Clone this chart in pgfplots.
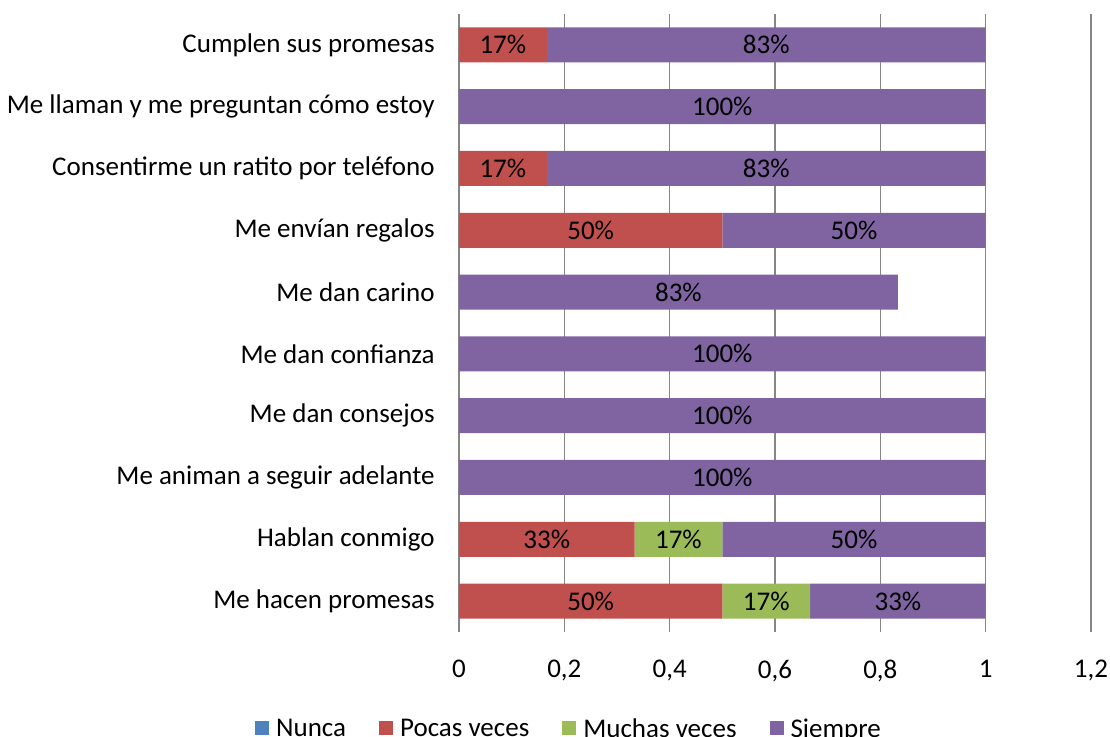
\documentclass[border=0pt]{standalone}
\usepackage{pgfplots}
\pgfplotsset{compat=1.18}
\usepackage{pgfplotstable}
\usepackage{fontspec}
\setmainfont{Carlito}
\definecolor{cN}{HTML}{4F81BD}
\definecolor{cP}{HTML}{C0504D}
\definecolor{cM}{HTML}{9BBB59}
\definecolor{cS}{HTML}{8064A2}
\definecolor{gridc}{HTML}{868686}
\pgfplotstableread{
y  n  np  p      pp  m      mp  s      sp
0  0  0   0.5    50  0.1667 17  0.3333 33
1  0  0   0.3333 33  0.1667 17  0.5    50
2  0  0   0      0   0      0   1      100
3  0  0   0      0   0      0   1      100
4  0  0   0      0   0      0   1      100
5  0  0   0      0   0      0   0.8333 83
6  0  0   0.5    50  0      0   0.5    50
7  0  0   0.1667 17  0      0   0.8333 83
8  0  0   0      0   0      0   1      100
9  0  0   0.1667 17  0      0   0.8333 83
}\data
\newcommand\cf{\fontsize{13.5}{16}\selectfont}
\begin{document}
\cf
\begin{tikzpicture}
\useasboundingbox (0,0) rectangle (555pt,368.5pt);
\begin{axis}[
  at={(229.5pt,52.5pt)}, anchor=south west,
  scale only axis, width=316pt, height=309pt,
  xbar stacked, bar width=17.5pt,
  xmin=0, xmax=1.2, ymin=-0.5, ymax=9.5,
  xtick={0,0.2,0.4,0.6,0.8,1,1.2},
  ytick={0,1,2,3,4,5,6,7,8,9},
  yticklabels={Me hacen promesas,Hablan conmigo,Me animan a seguir adelante,Me dan consejos,Me dan confianza,Me dan carino,Me envían regalos,Consentirme un ratito por teléfono,Me llaman y me preguntan cómo estoy,Cumplen sus promesas},
  /pgf/number format/use comma,
  /pgf/number format/assume math mode=true,
  major tick length=0pt,
  xmajorgrids, grid style={gridc, line width=0.6pt},
  axis line style={draw=none},
  separate axis lines,
  tick label style={font=\cf, text=black},
  yticklabel style={inner sep=0pt, anchor=east, xshift=-12pt},
  xticklabel style={inner sep=0pt, anchor=north, yshift=-14pt},
  point meta=explicit symbolic,
  nodes near coords={\ifnum\pgfplotspointmeta>0 \pgfplotspointmeta\%\fi},
  every node near coord/.append style={font=\cf, text=black, anchor=center},
  legend columns=4,
  legend style={at={(0.1725,-0.1553)}, anchor=center, draw=none, font=\cf, inner sep=0pt,
    /tikz/every even column/.append style={column sep=16.5pt},
    nodes={inner sep=0pt, text depth=0pt}, /tikz/every odd column/.append style={column sep=3.5pt}},
  legend image code/.code={\fill[#1] (0pt,-3.5pt) rectangle (7pt,3.5pt);},
]
\addplot[fill=cN, draw=none] table[x=n,y=y,meta=np]{\data};
\addplot[fill=cP, draw=none] table[x=p,y=y,meta=pp]{\data};
\addplot[fill=cM, draw=none] table[x=m,y=y,meta=mp]{\data};
\addplot[fill=cS, draw=none] table[x=s,y=y,meta=sp]{\data};
\legend{Nunca,Pocas veces,Muchas veces,Siempre}
\end{axis}
\end{tikzpicture}
\end{document}
